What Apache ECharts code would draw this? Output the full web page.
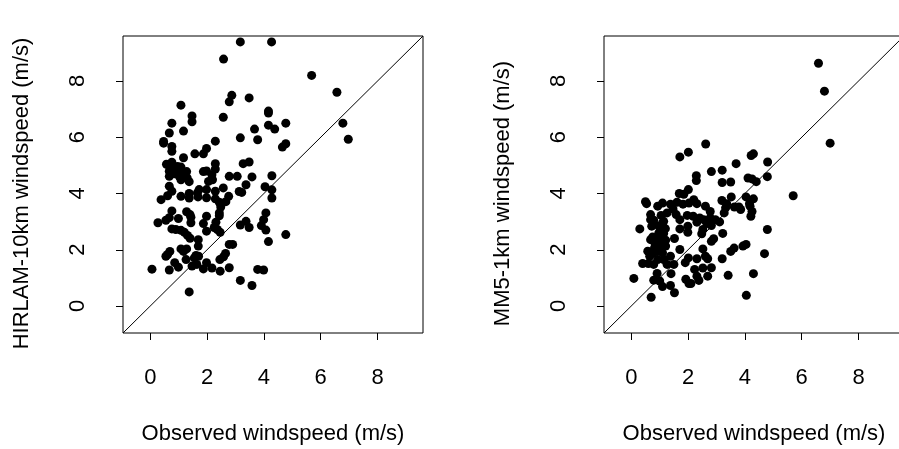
<!DOCTYPE html>
<html>
<head>
<meta charset="utf-8">
<script src="https://cdn.jsdelivr.net/npm/echarts@6/dist/echarts.min.js"></script>
<style>
  html, body { margin: 0; padding: 0; background: #fff; }
  #ChartDIV { width: 899px; height: 449px; }
</style>
</head>
<body>
<div id="ChartDIV"></div>
<script>
// observed vs HIRLAM-10km (left panel)
var obsHirlam = [3.17, 4.27, 2.58, 5.68, 6.57, 2.87, 2.78, 3.48, 1.08, 4.16, 4.16, 1.47, 1.47, 2.57, 0.76, 4.77, 4.16, 4.38, 3.67, 6.78,
    0.67, 1.17, 3.17, 6.97, 3.78, 2.29, 0.47, 0.47, 4.77, 4.65, 0.76, 0.76, 1.98, 1.87, 1.57, 1.17, 0.57, 0.76, 0.96, 1.08,
    2.29, 2.29, 3.48, 3.27, 0.67, 0.86, 1.28, 1.87, 1.98, 2.17, 2.78, 3.06, 3.58, 4.28, 0.67, 1.02, 1.08, 2.05, 2.19, 1.37,
    3.37, 4.04, 4.28, 2.57, 0.67, 1.72, 1.98, 0.76, 3.22, 3.13, 1.66, 2.29, 1.37, 1.08, 0.61, 1.68, 1.98, 2.76, 4.28, 1.37,
    2.29, 0.38, 2.66, 2.43, 2.48, 2.43, 4.07, 0.76, 1.28, 1.40, 1.43, 0.99, 0.67, 0.55, 1.98, 2.43, 0.27, 1.87, 2.31, 3.37,
    3.17, 3.99, 3.91, 1.43, 0.76, 0.90, 1.08, 1.20, 2.25, 2.36, 2.46, 1.98, 3.48, 4.07, 4.77, 1.31, 1.40, 1.69, 4.16, 2.78,
    2.90, 1.69, 1.08, 1.28, 1.17, 0.69, 0.61, 0.55, 2.65, 2.58, 2.45, 1.61, 1.70, 1.55, 1.26, 0.86, 1.98, 1.64, 0.99, 1.47,
    1.87, 2.17, 2.78, 0.06, 0.67, 2.46, 3.78, 3.99, 3.17, 3.58, 1.37, 0.85, 1.00, 0.70, 1.15, 1.30];
var hirlam = [9.39, 9.39, 8.78, 8.20, 7.60, 7.49, 7.26, 7.40, 7.14, 6.93, 6.86, 6.76, 6.55, 6.71, 6.50, 6.50, 6.43, 6.29, 6.29, 6.50,
    6.15, 6.22, 5.98, 5.93, 5.91, 5.86, 5.85, 5.79, 5.77, 5.65, 5.67, 5.50, 5.60, 5.41, 5.41, 5.27, 5.04, 5.11, 4.96, 4.94,
    5.06, 4.87, 5.12, 5.06, 4.79, 4.80, 4.78, 4.78, 4.80, 4.67, 4.61, 4.61, 4.59, 4.63, 4.61, 4.61, 4.49, 4.43, 4.49, 4.42,
    4.31, 4.24, 4.13, 4.20, 4.26, 4.14, 4.14, 4.08, 4.04, 4.07, 4.02, 4.08, 4.00, 3.90, 3.92, 3.88, 3.85, 3.90, 3.84, 3.84,
    3.81, 3.78, 3.71, 3.69, 3.52, 3.31, 3.31, 3.38, 3.35, 3.25, 3.16, 3.11, 3.14, 3.05, 3.19, 3.21, 2.96, 2.93, 2.98, 3.01,
    2.88, 3.07, 2.86, 2.96, 2.74, 2.72, 2.69, 2.62, 2.79, 2.72, 2.62, 2.66, 2.79, 2.70, 2.54, 2.51, 2.41, 2.36, 2.29, 2.19,
    2.19, 2.13, 2.03, 2.03, 1.94, 1.94, 1.83, 1.77, 1.87, 1.75, 1.65, 1.80, 1.77, 1.71, 1.65, 1.54, 1.54, 1.48, 1.38, 1.42,
    1.32, 1.35, 1.36, 1.31, 1.28, 1.24, 1.30, 1.28, 0.91, 0.73, 0.50, 4.70, 4.85, 4.90, 4.72, 4.55];

// observed vs MM5-1km (right panel)
var obsMm5 = [6.59, 6.80, 7.00, 2.62, 2.01, 1.71, 4.30, 4.22, 4.80, 3.69, 3.20, 2.82, 2.29, 2.29, 4.79, 4.11, 4.25, 4.40, 3.20, 3.50,
    2.01, 1.69, 1.85, 5.70, 3.52, 4.04, 4.30, 3.19, 0.50, 0.54, 0.93, 1.10, 1.38, 1.61, 1.82, 2.03, 2.20, 2.31, 2.61, 3.36,
    3.63, 3.79, 3.85, 4.16, 4.18, 4.25, 4.21, 3.32, 3.27, 2.78, 1.47, 1.26, 0.68, 1.05, 1.58, 1.71, 1.97, 2.18, 2.41, 2.55,
    2.78, 2.96, 3.11, 2.31, 2.66, 0.79, 0.68, 1.14, 0.72, 0.97, 1.14, 0.30, 1.71, 1.99, 1.99, 2.52, 2.82, 4.79, 3.22, 2.48,
    0.97, 1.14, 0.79, 1.03, 1.21, 1.52, 0.68, 2.90, 2.82, 1.03, 1.21, 0.82, 1.71, 2.52, 3.62, 3.50, 4.04, 3.93, 0.58, 0.77,
    0.91, 1.10, 0.65, 0.93, 1.14, 1.38, 2.61, 2.01, 2.31, 2.69, 3.20, 4.69, 0.40, 0.60, 0.79, 1.26, 1.50, 1.90, 2.82, 2.52,
    2.23, 0.91, 1.40, 2.31, 2.69, 3.41, 4.30, 0.09, 0.79, 1.00, 1.92, 2.38, 2.03, 2.10, 1.10, 1.38, 1.52, 0.70, 4.05, 0.85,
    1.05, 1.20, 0.75, 1.10];
var mm5 = [8.63, 7.64, 5.79, 5.76, 5.47, 5.30, 5.41, 5.35, 5.12, 5.06, 4.83, 4.78, 4.63, 4.46, 4.60, 4.55, 4.52, 4.42, 4.39, 4.41,
    4.14, 4.00, 3.97, 3.92, 3.88, 3.88, 3.81, 3.75, 3.71, 3.64, 3.55, 3.66, 3.62, 3.69, 3.62, 3.66, 3.78, 3.64, 3.55, 3.64,
    3.52, 3.52, 3.43, 3.64, 3.55, 3.36, 3.19, 3.49, 3.31, 3.36, 3.45, 3.31, 3.25, 3.22, 3.25, 3.07, 3.22, 3.19, 3.13, 3.07,
    3.13, 3.07, 2.99, 2.98, 2.93, 3.05, 3.07, 3.01, 2.84, 2.84, 2.78, 2.74, 2.74, 2.84, 2.62, 2.72, 2.86, 2.72, 2.58, 2.57,
    2.60, 2.58, 2.42, 2.40, 2.34, 2.40, 2.36, 2.39, 2.30, 2.17, 2.13, 2.07, 2.01, 2.03, 2.06, 1.94, 2.19, 2.13, 1.95, 1.89,
    1.94, 1.89, 1.77, 1.65, 1.65, 1.77, 1.77, 1.71, 1.68, 1.68, 1.68, 1.86, 1.51, 1.51, 1.48, 1.48, 1.48, 1.54, 1.36, 1.35,
    1.30, 1.16, 1.15, 1.06, 1.06, 1.09, 1.15, 0.98, 0.92, 0.89, 0.95, 0.91, 0.80, 0.80, 0.69, 0.73, 0.47, 0.31, 0.38, 2.20,
    2.50, 2.75, 2.45, 2.95];

var tickValues = [0, 2, 4, 6, 8];
var axisMin = -0.96;
var axisMax = 9.6;
var xTitle = 'Observed windspeed (m/s)';
var yTitles = ['HIRLAM-10km windspeed (m/s)', 'MM5-1km windspeed (m/s)'];

function pairs(xs, ys) {
    var res = [];
    for (var i = 0; i < xs.length; i++) {
        res.push([xs[i], ys[i]]);
    }
    return res;
}

var fontFamily = 'Liberation Sans, Arial, Helvetica, sans-serif';

function makeAxis(name, isY, idx) {
    return {
        type: 'value',
        gridIndex: idx,
        min: axisMin,
        max: axisMax,
        name: name,
        nameLocation: 'middle',
        nameGap: 90,
        nameTextStyle: {
            color: '#000', fontSize: 22, fontFamily: fontFamily,
            //-- R puts the y title a little lower than the box middle
            padding: isY ? [0, 18, 0, 0] : 0
        },
        axisLine: { show: false, onZero: false },
        splitLine: { show: false },
        axisTick: {
            show: true,
            inside: false,
            length: 7,
            customValues: tickValues,
            lineStyle: { color: '#000', width: 1 }
        },
        axisLabel: {
            show: true,
            margin: 34,
            rotate: isY ? 90 : 0,
            color: '#000',
            fontSize: 22,
            fontFamily: fontFamily,
            customValues: tickValues
        }
    };
}

var myChart = echarts.init(document.getElementById('ChartDIV'), null, { renderer: 'canvas' });

var option = {
    animation: false,
    backgroundColor: '#fff',
    grid: [
        { left: 123, top: 36, width: 300, height: 297, show: true, borderColor: '#000', borderWidth: 1, backgroundColor: 'transparent', outerBoundsMode: 'none' },
        { left: 604, top: 36, width: 300, height: 297, show: true, borderColor: '#000', borderWidth: 1, backgroundColor: 'transparent', outerBoundsMode: 'none' }
    ],
    xAxis: [makeAxis(xTitle, false, 0), makeAxis(xTitle, false, 1)],
    yAxis: [makeAxis(yTitles[0], true, 0), makeAxis(yTitles[1], true, 1)],
    series: [
        {
            type: 'line', xAxisIndex: 0, yAxisIndex: 0,
            data: [[axisMin, axisMin], [axisMax, axisMax]],
            symbol: 'none', lineStyle: { color: '#000', width: 1 }, silent: true
        },
        {
            type: 'scatter', xAxisIndex: 0, yAxisIndex: 0,
            data: pairs(obsHirlam, hirlam),
            symbol: 'circle', symbolSize: 9,
            itemStyle: { color: '#000', opacity: 1 }
        },
        {
            type: 'line', xAxisIndex: 1, yAxisIndex: 1,
            data: [[axisMin, axisMin], [axisMax, axisMax]],
            symbol: 'none', lineStyle: { color: '#000', width: 1 }, silent: true
        },
        {
            type: 'scatter', xAxisIndex: 1, yAxisIndex: 1,
            data: pairs(obsMm5, mm5),
            symbol: 'circle', symbolSize: 9,
            itemStyle: { color: '#000', opacity: 1 }
        }
    ]
};

myChart.setOption(option);
</script>
</body>
</html>
